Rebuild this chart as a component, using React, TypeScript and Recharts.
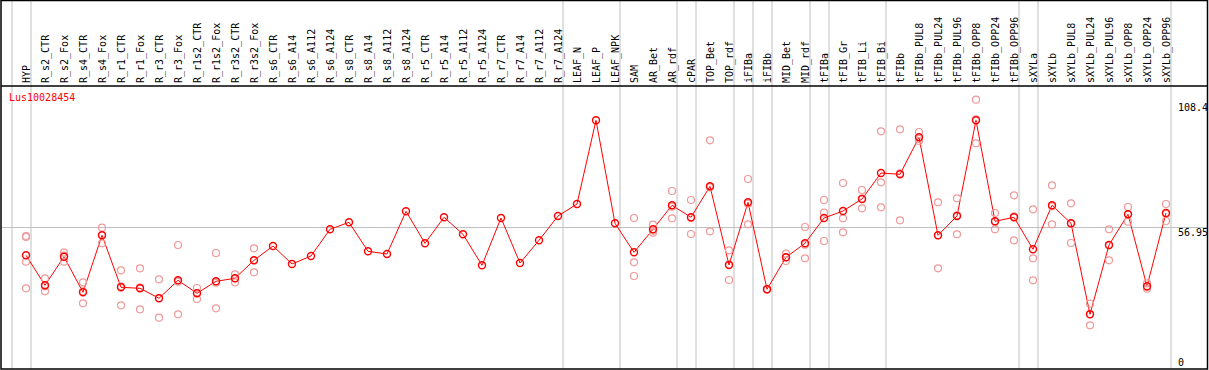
import React from 'react';
import { ComposedChart, Line, Scatter, XAxis, YAxis, ReferenceLine } from 'recharts';

const categories = [
  'HYP', 'R_s2_CTR', 'R_s2_Fox', 'R_s4_CTR', 'R_s4_Fox', 'R_r1_CTR', 'R_r1_Fox', 'R_r3_CTR', 'R_r3_Fox',
  'R_r1s2_CTR', 'R_r1s2_Fox', 'R_r3s2_CTR', 'R_r3s2_Fox', 'R_s6_CTR', 'R_s6_A14', 'R_s6_A112', 'R_s6_A124',
  'R_s8_CTR', 'R_s8_A14', 'R_s8_A112', 'R_s8_A124', 'R_r5_CTR', 'R_r5_A14', 'R_r5_A112', 'R_r5_A124',
  'R_r7_CTR', 'R_r7_A14', 'R_r7_A112', 'R_r7_A124', 'LEAF_N', 'LEAF_P', 'LEAF_NPK', 'SAM', 'AR_Bet', 'AR_rdf',
  'cPAR', 'TOP_Bet', 'TOP_rdf', 'iFIBa', 'iFIBb', 'MID_Bet', 'MID_rdf', 'tFIBa', 'tFIB_Gr', 'tFIB_Li', 'tFIB_Bi',
  'tFIBb', 'tFIBb_PUL8', 'tFIBb_PUL24', 'tFIBb_PUL96', 'tFIBb_OPP8', 'tFIBb_OPP24', 'tFIBb_OPP96', 'sXYLa',
  'sXYLb', 'sXYLb_PUL8', 'sXYLb_PUL24', 'sXYLb_PUL96', 'sXYLb_OPP8', 'sXYLb_OPP24', 'sXYLb_OPP96',
];

// mean expression per sample
const meanValues = [
  45.76, 33.69, 45.2, 30.87, 53.81, 32.88, 32.48, 28.46, 35.7, 30.47, 35.3, 36.5, 43.75, 49.51, 42.26, 45.48,
  56.23, 59.04, 47.37, 46.29, 63.47, 50.59, 61.06, 54.21, 41.74, 60.77, 42.66, 51.8, 61.58, 66.41, 100.1,
  58.64, 46.97, 56.23, 65.89, 61.06, 73.53, 41.86, 67.09, 32.08, 44.96, 50.59, 60.77, 63.59, 68.42, 78.89,
  78.36, 93.25, 53.81, 61.58, 100.1, 59.45, 61.06, 48.18, 65.89, 58.64, 22.02, 49.91, 62.26, 33.29, 62.79,
];

// replicates (null = none shown)
const N = null;
const rep1 = [
  53.53, 36.5, 46.81, 34.89, 56.87, 39.72, 40.53, 36.1, 49.91, 32.6, 46.69, 38.11, 48.58, N, N, N, N, N, N, N,
  N, N, N, N, N, N, N, N, N, N, N, N, 60.77, 58.08, 71.64, 68.02, 92.05, 47.77, 76.47, 32.2, 46.41, 57.15,
  68.02, 74.86, 72.04, 95.67, 96.47, 95.39, 67.09, 68.7, 108.4, 62.79, 69.91, 64.28, 73.94, 66.69, 26.28,
  56.23, 65.2, 34.49, 66.41,
];
const rep2 = [
  43.19, 31.27, 43.19, 26.44, 50.59, 25.64, 24.03, 20.65, 22.02, 28.17, 24.43, 34.89, 38.92, N, N, N, N, N, N,
  N, N, N, N, N, N, N, N, N, N, N, N, N, 42.94, 54.86, 60.65, 54.33, 55.42, 35.82, 58.24, 32.0, 43.47, 44.55,
  62.91, 60.65, 64.68, 75.14, 59.85, 91.77, 40.53, 54.21, 90.84, 56.23, 51.8, 44.55, 58.24, 50.71, 17.59,
  43.75, 59.29, 32.32, 59.57,
];
const rep3 = [
  32.48, 33.29, 45.6, 31.27, 53.93, 33.29, 32.88, 28.58, 35.14, 30.59, 34.73, 36.5, 43.75, N, N, N, N, N, N,
  N, N, N, N, N, N, N, N, N, N, N, N, N, 37.43, 55.66, 65.32, 60.77, 73.13, 41.98, 66.53, 32.08, 44.96, 50.03,
  51.52, 55.02, 68.54, 65.08, 78.77, 92.57, 53.81, 61.86, 100.5, 59.29, 61.46, 35.7, 65.48, 58.48, 22.14,
  49.79, 62.26, 33.0, 62.38,
];
const rep4 = [53.13];

const yTicks = [0, 56.95, 108.4];
const separators = [-1, 0, 28, 31, 34, 35, 37, 38, 39, 41, 42, 45, 52, 53, 60];

const chartData = categories.map((name, i) => ({ i, name, mean: meanValues[i] }));
const repData = [rep1, rep2, rep3, rep4]
  .flatMap((arr) => arr.map((v, i) => (v == null ? null : { i, v })))
  .filter(Boolean);

const FONT = '"DejaVu Sans Mono", monospace';
const Y_MAX = 113.9;
const Y_TOP = (369 / 283) * Y_MAX; // value at pixel row 0

const CategoryTick = (props: any) => {
  const { x, payload } = props;
  const label = categories[payload.value] ?? '';
  return (
    <text
      transform={`translate(${x + 4},83) rotate(-90)`}
      textAnchor="start"
      fontFamily={FONT}
      fontSize={10}
      fill="#000"
    >
      {label}
    </text>
  );
};

const tickDy: Record<string, number> = { '0': -3.5, '56.95': 8.5, '108.4': 11 };

const ValueTick = (props: any) => {
  const { y, payload } = props;
  return (
    <text x={1178} y={y + (tickDy[String(payload.value)] ?? 0)} fontFamily={FONT} fontSize={10} fill="#000">
      {payload.value}
    </text>
  );
};

const MeanDot = (props: any) => {
  const { cx, cy } = props;
  if (cx == null || cy == null) return null;
  return <circle cx={cx} cy={cy} r={3.5} stroke="#ff0000" strokeWidth={1.4} fill="none" />;
};

const RepDot = (props: any) => {
  const { cx, cy } = props;
  return <circle cx={cx} cy={cy} r={3.5} stroke="#f09999" strokeWidth={1.2} fill="none" />;
};

export default function App() {
  return (
    <div style={{ position: 'relative', width: 1209, height: 370, background: '#fff' }}>
      <style>{'body{margin:0}'}</style>
      <ComposedChart width={1209} height={370} data={chartData} margin={{ top: 0, right: 2, bottom: 1, left: 1 }}>
        <XAxis
          dataKey="i"
          type="number"
          orientation="top"
          height={86}
          domain={[-25 / 19, 1181 / 19]}
          ticks={categories.map((_, i) => i)}
          interval={0}
          tick={<CategoryTick />}
          axisLine={false}
          tickLine={false}
          allowDataOverflow
        />
        <YAxis
          type="number"
          orientation="right"
          mirror
          width={30}
          domain={[0, Y_MAX]}
          ticks={yTicks}
          interval={0}
          tick={<ValueTick />}
          axisLine={false}
          tickLine={false}
          allowDataOverflow
        />
        <ReferenceLine y={56.95} stroke="#c0c0c0" strokeWidth={1} />
        {separators.map((s) => (
          <ReferenceLine
            key={s}
            segment={[{ x: s + 5 / 19, y: 0 }, { x: s + 5 / 19, y: Y_TOP }]}
            stroke="#c0c0c0"
            strokeWidth={1}
            ifOverflow="visible"
          />
        ))}
        <Scatter data={repData as any[]} dataKey="v" shape={<RepDot />} isAnimationActive={false} />
        <Line
          dataKey="mean"
          stroke="#ff0000"
          strokeWidth={1}
          dot={<MeanDot />}
          activeDot={false}
          isAnimationActive={false}
        />
      </ComposedChart>
      <svg width={1209} height={370} style={{ position: 'absolute', left: 0, top: 0, pointerEvents: 'none' }}>
        <rect x={1} y={0.5} width={1206.5} height={368.5} fill="none" stroke="#000" strokeWidth={1.5} />
        <line x1={1} x2={1208} y1={86} y2={86} stroke="#000" strokeWidth={1.5} />
        <text x={9} y={100.5} fontFamily={FONT} fontSize={10} fill="#ff0000">
          Lus10028454
        </text>
      </svg>
    </div>
  );
}
